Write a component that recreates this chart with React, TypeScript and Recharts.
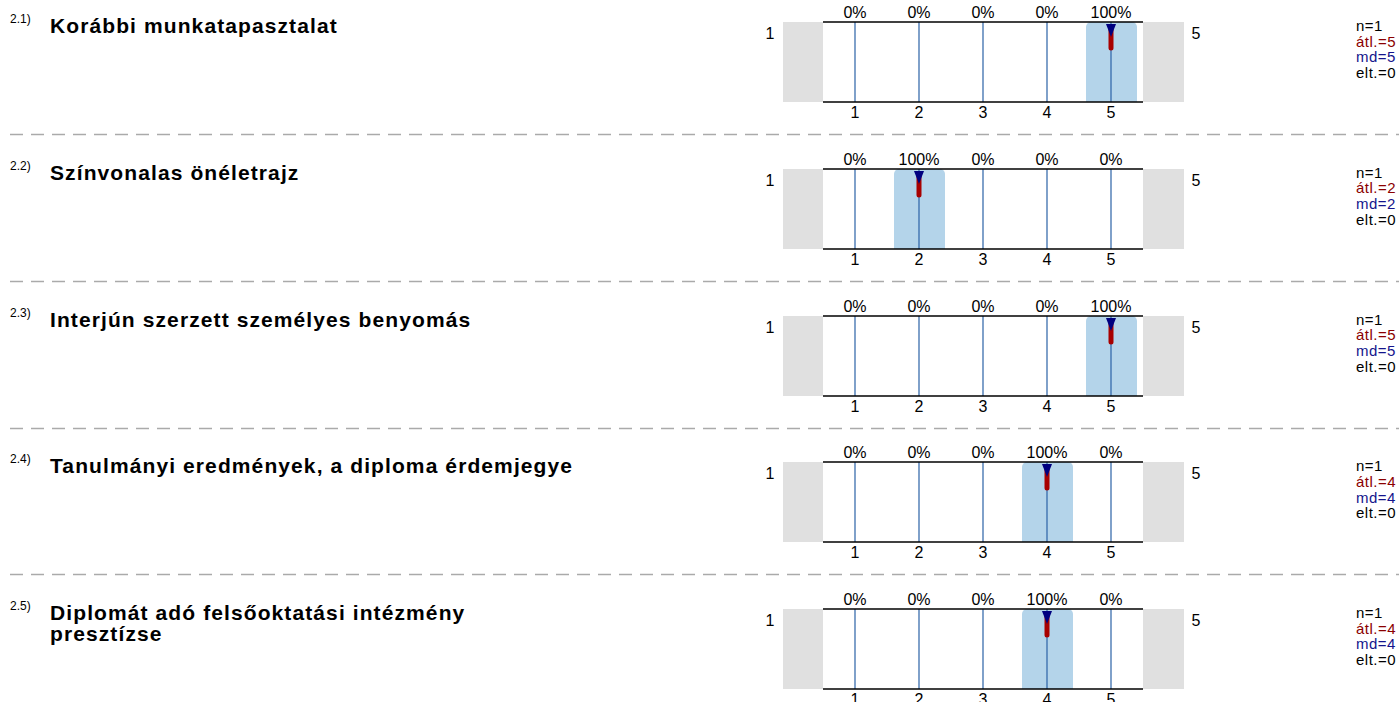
import React from 'react';
import { ComposedChart, XAxis, YAxis, Bar, Scatter, ReferenceLine } from 'recharts';

const itemNumbers = ['2.1)', '2.2)', '2.3)', '2.4)', '2.5)'];
const titles: string[][] = [
  ['Korábbi munkatapasztalat'],
  ['Színvonalas önéletrajz'],
  ['Interjún szerzett személyes benyomás'],
  ['Tanulmányi eredmények, a diploma érdemjegye'],
  ['Diplomát adó felsőoktatási intézmény', 'presztízse'],
];
const scaleValues = [1, 2, 3, 4, 5];
const percentages: number[][] = [
  [0, 0, 0, 0, 100],
  [0, 100, 0, 0, 0],
  [0, 0, 0, 0, 100],
  [0, 0, 0, 100, 0],
  [0, 0, 0, 100, 0],
];
const nValues = [1, 1, 1, 1, 1];
const means = [5, 2, 5, 4, 4];
const medians = [5, 2, 5, 4, 4];
const stdDevs = [0, 0, 0, 0, 0];
const leftPole = '1';
const rightPole = '5';

const ROW_PITCH = 146.75;
const FONT = '"Liberation Sans", Arial, sans-serif';

const MeanMarker = (p: any) => {
  const { cx, cy } = p;
  if (cx == null || cy == null) return null;
  return (
    <path
      d={`M${cx - 2.5},${cy + 5} h5 v21 a2.5,2.5 0 0 1 -5 0 z`}
      fill="#a80000"
    />
  );
};

const MedianMarker = (p: any) => {
  const { cx, cy } = p;
  if (cx == null || cy == null) return null;
  return <path d={`M${cx - 5},${cy + 2} L${cx + 5},${cy + 2} L${cx},${cy + 15} Z`} fill="#000080" />;
};

const Row = ({ i }: { i: number }) => {
  const top = i * ROW_PITCH;
  const pct = percentages[i];
  const data = scaleValues.map((v, k) => ({ x: v, pct: pct[k] }));
  return (
    <div style={{ position: 'absolute', left: 0, top, width: 1399, height: ROW_PITCH }}>
      <div style={{ position: 'absolute', left: 10, top: 13, fontSize: 12, lineHeight: '12px', color: '#000' }}>
        {itemNumbers[i]}
      </div>
      <div style={{ position: 'absolute', left: 50, top: 15, fontSize: 21, lineHeight: '21px', letterSpacing: '1.1px', fontWeight: 'bold', color: '#000', whiteSpace: 'nowrap' }}>
        {titles[i].map((t, k) => (
          <div key={k}>{t}</div>
        ))}
      </div>
      <div style={{ position: 'absolute', left: 783, top: 22, width: 40, height: 80, background: '#e0e0e0' }} />
      <div style={{ position: 'absolute', left: 1143, top: 22, width: 41, height: 80, background: '#e0e0e0' }} />
      <div style={{ position: 'absolute', left: 760, top: 26, width: 20, textAlign: 'center', fontSize: 16, lineHeight: '16px' }}>{leftPole}</div>
      <div style={{ position: 'absolute', left: 1186, top: 26, width: 20, textAlign: 'center', fontSize: 16, lineHeight: '16px' }}>{rightPole}</div>
      <div style={{ position: 'absolute', left: 783, top: 0 }}>
        <ComposedChart width={401} height={125} data={data} margin={{ top: 0, right: 41, bottom: 0, left: 40 }}>
          <XAxis
            xAxisId="b"
            dataKey="x"
            type="number"
            domain={[0.5, 5.5]}
            ticks={scaleValues}
            orientation="bottom"
            height={23}
            tickLine={false}
            tickSize={0}
            tickMargin={5}
            axisLine={{ stroke: '#000', strokeWidth: 1.5 }}
            tick={{ fill: '#000', fontSize: 16 }}
            allowDataOverflow
          />
          <XAxis
            xAxisId="t"
            dataKey="x"
            type="number"
            domain={[0.5, 5.5]}
            ticks={scaleValues}
            orientation="top"
            height={22}
            tickLine={false}
            tickSize={0}
            tickMargin={4}
            axisLine={{ stroke: '#000', strokeWidth: 1.5 }}
            tick={{ fill: '#000', fontSize: 16 }}
            tickFormatter={(v: number) => `${pct[scaleValues.indexOf(v)]}%`}
            allowDataOverflow
          />
          <YAxis yAxisId="y" hide domain={[0, 100]} />
          <Bar xAxisId="b" yAxisId="y" dataKey="pct" barSize={51} fill="#b4d4ea" radius={[5, 5, 0, 0]} isAnimationActive={false} />
          {scaleValues.map((v) => (
            <ReferenceLine key={v} xAxisId="b" yAxisId="y" x={v} stroke="#2a62a6" strokeWidth={1.2} />
          ))}
          <Scatter xAxisId="b" yAxisId="y" data={[{ x: means[i], pct: 100 }]} dataKey="pct" shape={MeanMarker} isAnimationActive={false} />
          <Scatter xAxisId="b" yAxisId="y" data={[{ x: medians[i], pct: 100 }]} dataKey="pct" shape={MedianMarker} isAnimationActive={false} />
        </ComposedChart>
      </div>
      <div style={{ position: 'absolute', left: 1356, top: 18, fontSize: 15, lineHeight: '15.7px', letterSpacing: '0.5px' }}>
        <div style={{ color: '#000' }}>n={nValues[i]}</div>
        <div style={{ color: '#8b0000' }}>átl.={means[i]}</div>
        <div style={{ color: '#14148c' }}>md={medians[i]}</div>
        <div style={{ color: '#000' }}>elt.={stdDevs[i]}</div>
      </div>
      {i < titles.length - 1 && (
        <svg style={{ position: 'absolute', left: 0, top: 133, overflow: 'visible' }} width={1399} height={3}>
          <line x1={10} y1={1.5} x2={1399} y2={1.5} stroke="#aaaaaa" strokeWidth={1.5} strokeDasharray="13 8" />
        </svg>
      )}
    </div>
  );
}

export default function App() {
  return (
    <div style={{ position: 'absolute', left: 0, top: 0, width: 1399, height: 702, overflow: 'hidden', background: '#fff', fontFamily: FONT }}>
      {titles.map((_, i) => (
        <Row key={i} i={i} />
      ))}
    </div>
  );
}
